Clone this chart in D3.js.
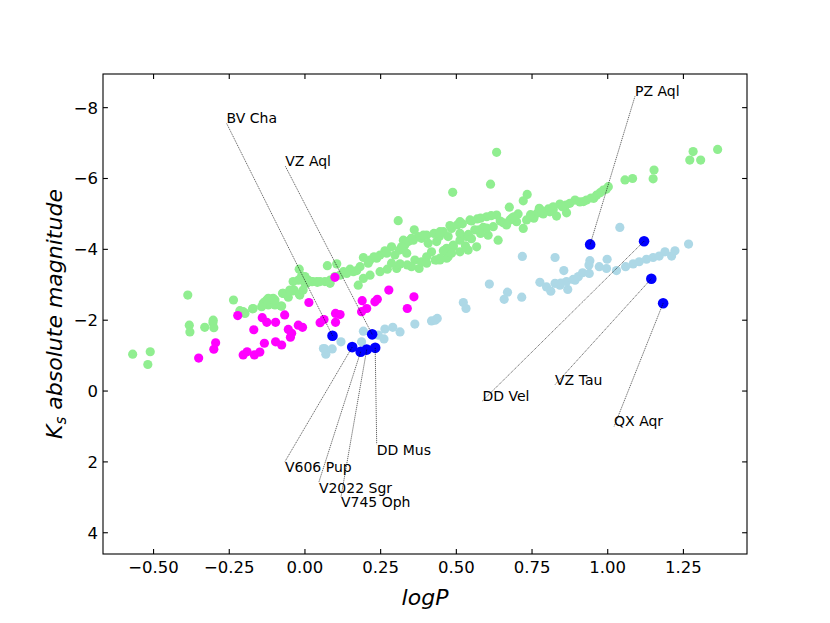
<!DOCTYPE html>
<html>
<head>
<meta charset="utf-8">
<script src="https://cdn.jsdelivr.net/npm/d3@7"></script>
<style>
body { margin: 0; background: #fff; }
text { font-family: "DejaVu Sans", sans-serif; }
</style>
</head>
<body>
<svg width="830" height="623"></svg>
<script>
// [logP, Ks]
var greenPts = [
  [-0.387,-2.71],[-0.569,-1.04],[-0.511,-1.11],[-0.519,-0.75],[-0.382,-1.86],[-0.380,-1.67],[-0.331,-1.80],
  [-0.304,-1.93],[-0.301,-1.79],[-0.236,-2.57],[-0.215,-2.27],[-0.200,-2.21],[-0.173,-2.32],[-0.138,-2.48],
  [-0.126,-2.54],[-0.105,-2.62],[-0.072,-2.76],[-0.077,-2.40],[-0.039,-2.83],[-0.017,-2.71],[-0.022,-3.13],
  [0.000,-3.23],[-0.143,-2.38],[-0.121,-2.43],[-0.198,-2.19],[-0.132,-2.52],[-0.121,-2.62],[-0.099,-2.43],
  [-0.079,-2.40],[-0.055,-2.65],[-0.036,-2.85],[-0.019,-2.74],[-0.019,-3.44],[-0.011,-3.25],[0.006,-3.04],
  [0.025,-3.09],[0.039,-3.09],
  [0.308,-4.81],[-0.074,-2.76],[0.000,-3.04],[0.022,-3.09],[0.041,-3.07],[0.066,-3.09],[0.074,-3.54],
  [0.083,-3.04],[0.099,-3.23],[0.105,-3.59],[0.127,-3.37],[0.149,-3.44],[0.171,-3.40],[0.176,-2.99],
  [0.193,-3.77],[0.215,-3.70],[0.228,-3.79],[0.248,-3.84],[0.264,-3.96],[0.272,-3.44],[0.286,-4.07],
  [0.297,-3.84],[0.303,-3.46],[0.312,-3.98],[0.330,-4.12],[0.341,-4.22],[0.338,-3.56],[0.361,-4.55],
  [0.358,-4.26],[0.363,-3.70],[0.377,-3.46],[0.385,-4.31],[0.385,-3.65],[0.402,-4.40],[0.402,-3.79],
  [0.418,-3.93],[0.426,-4.45],[0.444,-4.36],[0.435,-3.70],[0.457,-4.50],[0.462,-3.98],[0.468,-3.75],
  [0.484,-4.59],[0.490,-4.07],[0.503,-4.69],
  [0.083,-3.13],[0.050,-3.09],[0.011,-3.13],[-0.006,-2.85],[-0.050,-2.85],[-0.099,-2.57],[-0.126,-2.57],
  [-0.171,-2.33],[-0.204,-2.24],[-0.303,-2.00],[-0.039,-3.09],[0.325,-4.26],[0.347,-4.26],[0.374,-4.36],
  [0.633,-6.74],[0.613,-5.84],[0.488,-5.61],[0.734,-5.55],[0.721,-5.37],[0.675,-5.19],[0.774,-5.16],
  [0.804,-5.14],[0.842,-5.28],[0.862,-5.25],[0.892,-5.39],[0.908,-5.34],[0.930,-5.39],[0.954,-5.44],
  [0.963,-5.53],[0.985,-5.67],[1.002,-5.77],[1.057,-5.96],[1.082,-6.00],[0.864,-5.03],[0.831,-4.94],
  [0.809,-5.06],[0.787,-5.00],[0.756,-4.88],[0.732,-4.83],[0.704,-5.00],[0.721,-4.59],[0.699,-4.78],
  [0.677,-4.83],[0.655,-4.75],[0.633,-4.97],[0.600,-4.92],[0.569,-4.86],[0.545,-4.83],[0.512,-4.78],
  [0.638,-4.26],[0.666,-4.69],[0.622,-4.64],[0.589,-4.62],[0.561,-4.55],[0.534,-4.36],[0.512,-4.26],
  [0.490,-4.12],[0.468,-4.03],[0.539,-3.98],[0.512,-3.93],[0.567,-4.07],[0.605,-4.40],[0.683,-4.88],
  [0.767,-5.02],
  [1.153,-6.24],[1.150,-5.99],[1.282,-6.76],[1.271,-6.52],[1.307,-6.52],[1.363,-6.82],[0.479,-4.67],
  [0.446,-4.50],[0.391,-4.40],[0.473,-3.79],[0.446,-3.70],[0.430,-3.70],[0.457,-3.96],[0.336,-3.89],
  [0.314,-3.59],[0.512,-4.45],[0.820,-5.20],
  [0.336,-4.22],[0.352,-4.31],[0.319,-4.07],[0.270,-3.89],[0.237,-3.75],[0.209,-3.61],[0.182,-3.51],
  [0.160,-3.37],[0.138,-3.32],[0.116,-3.27],[0.407,-4.17],[0.435,-4.22],[0.473,-4.36],[0.352,-3.51],
  [0.402,-3.61],[0.446,-3.75],[0.484,-3.89],[0.193,-3.18],[0.215,-3.27],[0.248,-3.37],[0.286,-3.61],
  [0.520,-4.72],[0.550,-4.80],[0.580,-4.88],[0.615,-4.95],[0.645,-4.80],[0.690,-4.92],[0.745,-4.98],
  [0.780,-5.10],[0.820,-5.12],[0.850,-5.20],[0.875,-5.30],[0.920,-5.35],[0.945,-5.45],[0.975,-5.60],
  [0.995,-5.70],[0.540,-4.42],[0.575,-4.55],[0.600,-4.60],[0.530,-4.10],[0.550,-4.30],[0.580,-4.45]
];

var lightBluePts = [
  [0.193,-1.69],[0.119,-1.39],[0.066,-1.19],[0.090,-1.19],[0.069,-1.04],[0.187,-1.39],[0.242,-1.58],
  [0.264,-1.75],[0.290,-1.80],[0.314,-1.67],[0.261,-1.47],[0.363,-1.89],[0.418,-1.98],[0.437,-2.05],
  [0.061,-1.20],[0.430,-2.00],
  [0.523,-2.50],[0.532,-2.33],[0.609,-3.02],[0.669,-2.79],[0.658,-2.59],[0.716,-2.65],[0.718,-3.80],
  [0.826,-3.77],[0.855,-3.40],[0.776,-3.07],[0.798,-2.94],[0.812,-2.82],[0.826,-3.04],[0.842,-2.99],
  [0.868,-2.87],[0.864,-3.09],[0.886,-3.15],[0.892,-3.13],[0.903,-3.23],[0.917,-3.34],[0.939,-3.32],
  [0.941,-3.68],[0.938,-3.56],[0.972,-3.51],[0.998,-3.72],[0.996,-3.46],[1.029,-3.40],[1.059,-3.51],
  [1.084,-3.59],[1.104,-3.65],[1.128,-3.72],[1.150,-3.77],[1.170,-3.81],[1.189,-3.93],[1.211,-3.81],
  [1.222,-3.96],[1.267,-4.15],[1.040,-4.62],[0.845,-3.05]
];

var magentaPts = [
  [-0.222,-2.13],[-0.141,-2.07],[-0.126,-1.94],[-0.097,-1.94],[-0.067,-2.15],[-0.169,-1.73],[-0.295,-1.36],
  [-0.301,-1.18],[-0.351,-0.93],[-0.204,-1.02],[-0.191,-1.11],[-0.167,-1.02],[-0.149,-1.10],[-0.134,-1.35],
  [-0.097,-1.39],[-0.077,-1.30],[-0.055,-1.74],[-0.044,-1.63],[-0.048,-1.52],[-0.022,-1.86],[-0.008,-1.80],
  [0.013,-2.50],[0.050,-1.93],[0.063,-2.02],[0.101,-2.19],[0.116,-2.16],[0.101,-1.94],[0.189,-2.55],
  [0.187,-2.24],[0.204,-2.33],[0.231,-2.52],[0.239,-2.59],[0.277,-2.85],[0.338,-2.33],[0.360,-2.66],
  [0.099,-3.21]
];

// named stars, and where their labels sit
var starNames = ["BV Cha", "VZ Aql", "V606 Pup", "V2022 Sgr", "V745 Oph", "DD Mus",
                 "PZ Aql", "DD Vel", "VZ Tau", "QX Aqr"];
var starLogP  = [0.091, 0.222, 0.156, 0.184, 0.204, 0.232, 0.942, 1.120, 1.144, 1.183];
var starKs    = [-1.56, -1.60, -1.24, -1.11, -1.17, -1.22, -4.14, -4.23, -3.17, -2.48];
var labelLogP = [-0.259, -0.065, -0.066, 0.046, 0.119, 0.237, 1.090, 0.586, 0.826, 1.021];
var labelKs   = [-7.56, -6.35, 1.99, 2.57, 2.99, 1.50, -8.32, 0.28, -0.18, 1.00];
var labelHang = [false, false, true, true, true, true, false, false, false, false];

var xTicks = [-0.50, -0.25, 0.00, 0.25, 0.50, 0.75, 1.00, 1.25];
var yTicks = [-8, -6, -4, -2, 0, 2, 4];

var svg = d3.select("svg"),
    plotL = 103, plotR = 747, plotT = 74, plotB = 554,
    tickLen = 4.9;

var x = d3.scaleLinear().domain([-0.667, 1.460]).range([plotL, plotR]);
var y = d3.scaleLinear().domain([-8.95, 4.60]).range([plotT, plotB]);

var fmtX = d3.format(".2f"), fmtY = d3.format("d");

// points
function dots(data, color, r) {
    svg.append("g").selectAll("circle")
        .data(data)
        .enter().append("circle")
        .attr("cx", function(d) { return x(d[0]); })
        .attr("cy", function(d) { return y(d[1]); })
        .attr("r", r)
        .attr("fill", color);
}
dots(greenPts, "#90ee90", 4.6);
dots(lightBluePts, "#add8e6", 4.6);
dots(magentaPts, "#ff00ff", 4.6);
dots(starNames.map(function(n, i) { return [starLogP[i], starKs[i]]; }), "#0000ff", 5.3);

// annotations
var ann = svg.append("g");
starNames.forEach(function(name, i) {
    var lx = x(labelLogP[i]), ly = y(labelKs[i]);
    ann.append("line")
        .attr("x1", x(starLogP[i])).attr("y1", y(starKs[i]))
        .attr("x2", lx).attr("y2", ly)
        .attr("stroke", "#000")
        .attr("stroke-width", 0.6)
        .attr("stroke-dasharray", "1.2,0.8");
    ann.append("text")
        .attr("x", lx)
        .attr("y", labelHang[i] ? ly + 10.5 : ly)
        .attr("font-size", "14px")
        .text(name);
});

// axes frame with inward ticks on all sides
var axes = svg.append("g");
axes.append("rect")
    .attr("x", plotL).attr("y", plotT)
    .attr("width", plotR - plotL).attr("height", plotB - plotT)
    .attr("fill", "none").attr("stroke", "#000").attr("stroke-width", 1.1);

xTicks.forEach(function(t) {
    var px = x(t);
    axes.append("line").attr("x1", px).attr("x2", px).attr("y1", plotB).attr("y2", plotB - tickLen)
        .attr("stroke", "#000").attr("stroke-width", 1.1);
    axes.append("line").attr("x1", px).attr("x2", px).attr("y1", plotT).attr("y2", plotT + tickLen)
        .attr("stroke", "#000").attr("stroke-width", 1.1);
    axes.append("text").attr("x", px).attr("y", plotB + 18.5)
        .attr("text-anchor", "middle").attr("font-size", "16.5px")
        .text(fmtX(t));
});

yTicks.forEach(function(t) {
    var py = y(t);
    axes.append("line").attr("x1", plotL).attr("x2", plotL + tickLen).attr("y1", py).attr("y2", py)
        .attr("stroke", "#000").attr("stroke-width", 1.1);
    axes.append("line").attr("x1", plotR).attr("x2", plotR - tickLen).attr("y1", py).attr("y2", py)
        .attr("stroke", "#000").attr("stroke-width", 1.1);
    axes.append("text").attr("x", plotL - 5).attr("y", py).attr("dy", "0.36em")
        .attr("text-anchor", "end").attr("font-size", "16.5px")
        .text(fmtY(t));
});

// axis titles
svg.append("text")
    .attr("x", (plotL + plotR) / 2).attr("y", 605)
    .attr("text-anchor", "middle").attr("font-size", "22px").attr("font-style", "italic")
    .text("logP");

var yl = svg.append("text")
    .attr("transform", "translate(62," + (plotT + plotB) / 2 + ") rotate(-90)")
    .attr("text-anchor", "middle").attr("font-size", "22px").attr("font-style", "italic");
yl.append("tspan").text("K");
yl.append("tspan").attr("font-size", "15px").attr("dy", 4).text("s");
yl.append("tspan").attr("dy", -4).text(" absolute magnitude");
</script>
</body>
</html>
